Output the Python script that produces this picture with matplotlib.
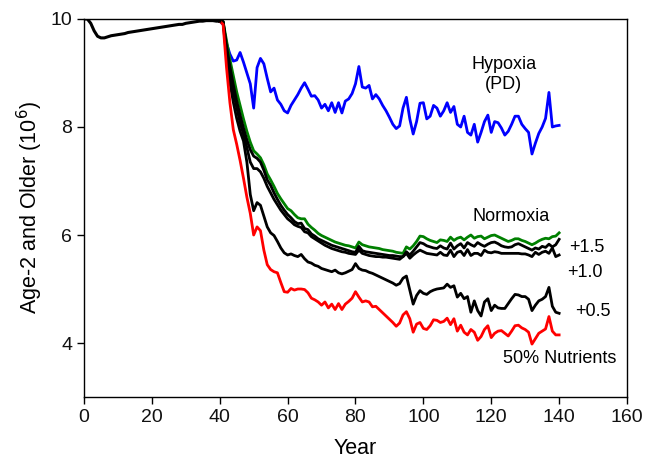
import numpy as np
import matplotlib
matplotlib.use("Agg")
import matplotlib.pyplot as plt

plt.rcParams["font.family"] = ["Liberation Sans", "DejaVu Sans"]

# ------------------------------------------------------------
# data
# ------------------------------------------------------------
# shared spin-up run, years 0..40
baseline = [10.0, 10.0, 9.92, 9.78, 9.68, 9.65, 9.65, 9.67, 9.69, 9.70,
            9.71, 9.72, 9.73, 9.75, 9.76, 9.77, 9.78, 9.79, 9.80, 9.81,
            9.82, 9.83, 9.84, 9.85, 9.86, 9.87, 9.88, 9.89, 9.90, 9.90,
            9.92, 9.93, 9.94, 9.95, 9.96, 9.96, 9.97, 9.97, 9.97, 9.96,
            9.96]

# scenario runs, years 41..140
hypoxia = [9.90, 9.55, 9.35, 9.22, 9.24, 9.38, 9.20, 9.00, 8.80, 8.35,
           9.10, 9.27, 9.17, 8.90, 8.65, 8.72, 8.50, 8.42, 8.30, 8.26,
           8.40, 8.50, 8.60, 8.72, 8.82, 8.70, 8.57, 8.58, 8.50, 8.35,
           8.42, 8.30, 8.45, 8.27, 8.45, 8.26, 8.48, 8.52, 8.62, 8.80,
           9.12, 8.74, 8.72, 8.77, 8.52, 8.60, 8.52, 8.40, 8.30, 8.18,
           8.05, 7.97, 8.02, 8.35, 8.55, 8.15, 7.87, 8.10, 8.44, 8.45,
           8.15, 8.20, 8.40, 8.35, 8.20, 8.30, 8.45, 8.27, 8.38, 8.05,
           8.00, 8.20, 7.90, 7.85, 8.05, 7.72, 7.90, 8.10, 8.22, 7.90,
           8.10, 8.08, 7.98, 7.85, 7.92, 8.05, 8.20, 8.20, 8.05, 7.97,
           7.90, 7.50, 7.70, 7.88, 8.00, 8.16, 8.64, 8.00, 8.02, 8.03]

normoxia = [9.95, 9.60, 9.25, 8.95, 8.65, 8.40, 8.15, 7.92, 7.72, 7.56,
            7.50, 7.43, 7.30, 7.13, 7.02, 6.90, 6.77, 6.67, 6.58, 6.49,
            6.45, 6.38, 6.32, 6.30, 6.30, 6.20, 6.14, 6.09, 6.03, 5.99,
            5.96, 5.93, 5.90, 5.87, 5.85, 5.83, 5.81, 5.80, 5.78, 5.76,
            5.87, 5.82, 5.80, 5.78, 5.77, 5.76, 5.75, 5.73, 5.72, 5.71,
            5.70, 5.68, 5.67, 5.66, 5.78, 5.74, 5.80, 5.88, 5.98, 5.97,
            5.93, 5.90, 5.88, 5.86, 5.91, 5.90, 5.88, 5.96, 5.90, 5.94,
            5.96, 5.91, 5.96, 6.00, 5.94, 5.97, 5.98, 5.93, 5.96, 5.99,
            6.00, 5.97, 5.94, 5.91, 5.88, 5.90, 5.93, 5.93, 5.90, 5.88,
            5.85, 5.82, 5.85, 5.89, 5.92, 5.94, 5.93, 5.97, 5.98, 6.04]

plus_15 = [9.95, 9.50, 9.12, 8.78, 8.48, 8.22, 7.98, 7.76, 7.58, 7.46,
           7.42, 7.35, 7.20, 7.02, 6.92, 6.78, 6.66, 6.55, 6.46, 6.38,
           6.32, 6.25, 6.21, 6.22, 6.12, 6.10, 6.02, 5.98, 5.93, 5.90,
           5.87, 5.84, 5.81, 5.79, 5.77, 5.75, 5.73, 5.71, 5.69, 5.68,
           5.79, 5.71, 5.69, 5.68, 5.67, 5.66, 5.65, 5.64, 5.63, 5.62,
           5.62, 5.61, 5.60, 5.60, 5.69, 5.63, 5.70, 5.78, 5.86, 5.84,
           5.80, 5.78, 5.76, 5.75, 5.80, 5.76, 5.74, 5.85, 5.74, 5.80,
           5.84, 5.76, 5.86, 5.82, 5.79, 5.86, 5.82, 5.79, 5.83, 5.86,
           5.87, 5.84, 5.80, 5.78, 5.77, 5.78, 5.82, 5.84, 5.81, 5.78,
           5.75, 5.72, 5.76, 5.74, 5.79, 5.77, 5.83, 5.78, 5.82, 5.92]

plus_10 = [9.95, 9.42, 9.02, 8.66, 8.36, 8.08, 7.86, 7.62, 7.35, 7.23,
           7.23, 7.17, 7.05, 6.90, 6.78, 6.66, 6.56, 6.46, 6.38, 6.30,
           6.25, 6.19, 6.16, 6.14, 6.06, 6.04, 5.97, 5.93, 5.89, 5.85,
           5.81, 5.78, 5.75, 5.73, 5.71, 5.69, 5.68, 5.66, 5.65, 5.64,
           5.72, 5.66, 5.64, 5.62, 5.61, 5.60, 5.60, 5.59, 5.59, 5.58,
           5.57, 5.56, 5.55, 5.60, 5.66, 5.57, 5.63, 5.68, 5.72, 5.69,
           5.66, 5.65, 5.64, 5.63, 5.68, 5.63, 5.62, 5.72, 5.60, 5.68,
           5.70, 5.62, 5.73, 5.62, 5.66, 5.66, 5.62, 5.72, 5.68, 5.67,
           5.69, 5.68, 5.66, 5.66, 5.66, 5.66, 5.66, 5.66, 5.65, 5.65,
           5.63, 5.60, 5.68, 5.64, 5.68, 5.70, 5.66, 5.76, 5.60, 5.63]

plus_05 = [9.93, 9.30, 8.82, 8.46, 8.16, 7.92, 7.74, 7.35, 6.75, 6.45,
           6.60, 6.55, 6.35, 6.15, 6.04, 5.99, 5.88, 5.76, 5.67, 5.63,
           5.65, 5.62, 5.60, 5.64, 5.56, 5.50, 5.48, 5.44, 5.42, 5.38,
           5.36, 5.34, 5.32, 5.35, 5.30, 5.28, 5.30, 5.33, 5.36, 5.47,
           5.38, 5.35, 5.34, 5.31, 5.29, 5.26, 5.23, 5.20, 5.17, 5.14,
           5.11, 5.07, 5.10, 5.20, 5.24, 4.98, 4.72, 4.88, 4.97, 4.92,
           4.90, 4.95, 4.98, 5.00, 5.01, 5.02, 5.09, 5.03, 5.06, 4.85,
           4.92, 4.82, 4.86, 4.57, 4.78, 4.60, 4.50, 4.76, 4.82, 4.60,
           4.70, 4.65, 4.64, 4.64, 4.73, 4.82, 4.90, 4.89, 4.86, 4.86,
           4.81, 4.60, 4.70, 4.78, 4.81, 4.86, 5.03, 4.68, 4.57, 4.55]

nutrients_50 = [9.90, 9.10, 8.45, 7.95, 7.68, 7.38, 7.05, 6.70, 6.40, 6.00,
                6.15, 6.08, 5.72, 5.45, 5.36, 5.32, 5.30, 5.12, 4.95, 4.94,
                5.01, 4.98, 5.00, 5.00, 4.99, 4.93, 4.83, 4.80, 4.76, 4.70,
                4.76, 4.65, 4.72, 4.62, 4.73, 4.62, 4.72, 4.77, 4.83, 4.95,
                4.85, 4.76, 4.78, 4.76, 4.67, 4.68, 4.62, 4.56, 4.50, 4.44,
                4.38, 4.31, 4.37, 4.52, 4.58, 4.45, 4.20, 4.35, 4.38, 4.27,
                4.25, 4.32, 4.43, 4.42, 4.38, 4.40, 4.46, 4.34, 4.45, 4.22,
                4.33, 4.20, 4.15, 4.25, 4.20, 4.05, 4.12, 4.25, 4.32, 4.10,
                4.18, 4.22, 4.23, 4.18, 4.13, 4.22, 4.32, 4.33, 4.28, 4.25,
                4.20, 3.98, 4.08, 4.18, 4.22, 4.26, 4.49, 4.22, 4.15, 4.15]

years_base = np.arange(0, 41)
years_run = np.arange(40, 141)

# scenario runs start from the last baseline point
SERIES = [
    ("Hypoxia", hypoxia, "#0000ff"),
    ("Normoxia", normoxia, "#008000"),
    ("+1.5", plus_15, "black"),
    ("+1.0", plus_10, "black"),
    ("+0.5", plus_05, "black"),
    ("50% Nutrients", nutrients_50, "#ff0000"),
]

# ------------------------------------------------------------
# plot
# ------------------------------------------------------------
fig = plt.figure(figsize=(6.53, 4.61), dpi=100)
ax = fig.add_axes([0.1286, 0.1388, 0.8316, 0.82])

for name, vals, color in SERIES:
    y = [baseline[-1]] + list(vals)
    ax.plot(years_run, y, color=color, linewidth=2.0, solid_joinstyle="round")

ax.plot(years_base, baseline, color="black", linewidth=2.2)

ax.set_xlim(0, 160)
ax.set_ylim(3, 10)
ax.set_xticks(np.arange(0, 161, 20))
ax.set_yticks([4, 6, 8, 10])
ax.tick_params(direction="out", length=5, width=1, labelsize=14,
               top=False, right=False, labelcolor="#111111")
for sp in ax.spines.values():
    sp.set_linewidth(1.0)

ax.set_xlabel("Year", fontsize=15.5, labelpad=9)
ax.set_ylabel("Age-2 and Older (10$^6$)", fontsize=15.5, labelpad=4)

# curve labels
ax.text(123.7, 8.97, "Hypoxia\n(PD)", ha="center", va="center",
        fontsize=13, linespacing=1.25)
ax.text(125.8, 6.34, "Normoxia", ha="center", va="center", fontsize=13)
ax.text(142.9, 5.77, "+1.5", ha="left", va="center", fontsize=13)
ax.text(142.5, 5.31, "+1.0", ha="left", va="center", fontsize=13)
ax.text(144.7, 4.59, "+0.5", ha="left", va="center", fontsize=13)
ax.text(140.2, 3.71, "50% Nutrients", ha="center", va="center", fontsize=13)

fig.savefig("out.png", dpi=100)
plt.close(fig)
